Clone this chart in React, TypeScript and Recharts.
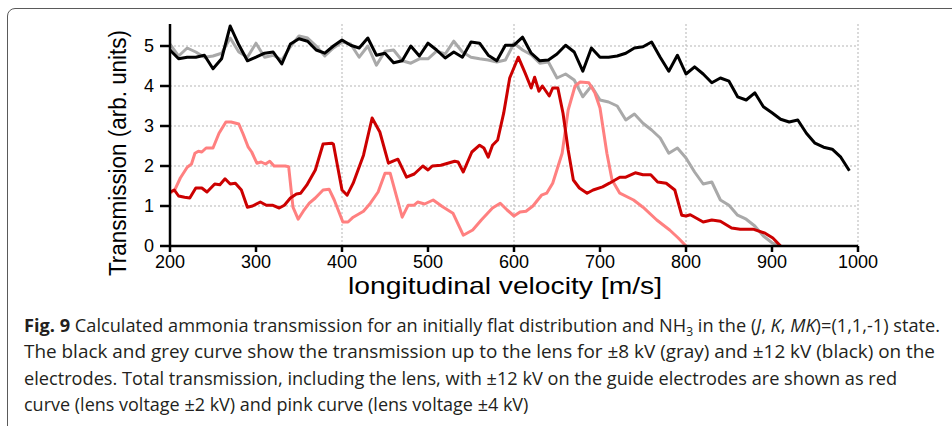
import React from 'react';
import { LineChart, Line, XAxis, YAxis, ReferenceLine } from 'recharts';

// velocity grid for the two "up to the lens" curves (m/s)
const gridV = [
  200, 210, 220, 230, 240, 250, 260, 270, 280, 290,
  300, 310, 320, 330, 340, 350, 360, 370, 380, 390,
  400, 410, 420, 430, 440, 450, 460, 470, 480, 490,
  500, 510, 520, 530, 540, 550, 560, 570, 580, 590,
  600, 610, 620, 630, 640, 650, 660, 670, 680, 690,
  700, 710, 720, 730, 740, 750, 760, 770, 780, 790,
  800, 810, 820, 830, 840, 850, 860, 870, 880, 890,
  900, 910, 920, 930, 940, 950, 960, 970, 980, 990,
];

// +-12 kV, black
const blackT = [
  4.9, 4.68, 4.72, 4.72, 4.77, 4.43, 4.68, 5.5, 5.03, 4.63,
  4.72, 4.82, 4.85, 4.55, 5.05, 5.18, 5.12, 4.9, 4.82, 5.0,
  5.15, 5.02, 4.95, 5.2, 4.77, 4.82, 4.58, 4.63, 5.0, 4.75,
  5.07, 4.9, 4.7, 4.85, 4.72, 5.1, 5.07, 4.77, 4.63, 5.02,
  5.02, 5.22, 4.82, 4.63, 4.65, 4.8, 5.02, 4.85, 4.37, 4.95,
  4.72, 4.72, 4.75, 4.82, 4.95, 4.98, 5.1, 4.72, 4.37, 4.77,
  4.3, 4.48, 4.3, 4.08, 4.2, 4.12, 3.73, 3.65, 3.83, 3.48,
  3.33, 3.17, 3.1, 3.15, 2.82, 2.57, 2.47, 2.42, 2.22, 1.88,
];

// +-8 kV, gray (ends at 910)
const grayT = [
  5.05, 4.75, 4.95, 4.85, 4.72, 4.75, 4.82, 5.2, 4.85, 4.72,
  5.07, 4.72, 4.77, 4.65, 4.98, 5.25, 5.2, 5.0, 4.75, 4.95,
  5.1, 5.05, 4.72, 5.0, 4.52, 4.87, 4.9, 4.63, 4.57, 4.68,
  4.68, 4.87, 4.8, 5.12, 4.85, 4.72, 4.68, 4.65, 4.6, 4.65,
  5.07, 4.9, 4.78, 4.57, 4.6, 4.2, 4.3, 4.15, 3.73, 4.0,
  3.65, 3.6, 3.5, 3.15, 3.3, 3.07, 2.9, 2.7, 2.32, 2.45,
  2.2, 1.85, 1.55, 1.6, 1.15, 1.02, 0.77, 0.67, 0.5, 0.25,
  0.08, 0,
];

// lens voltage +-2 kV, red
const redV = [
  200, 205, 210, 217, 223, 230, 237, 243, 252, 258, 264, 270, 276, 283, 290,
  296, 305, 312, 319, 327, 333, 340, 347, 352, 359, 369, 378, 388, 390, 400,
  406, 413, 425, 435, 444, 454, 460, 465, 475, 484, 494, 500, 505, 515, 523,
  531, 535, 541, 551, 560, 565, 570, 575, 581, 588, 595, 605, 613, 620, 624,
  629, 633, 641, 645, 651, 657, 663, 669, 676, 685, 692, 703, 711, 723, 730,
  741, 750, 759, 767, 777, 787, 795, 800, 805, 820, 830, 840, 853, 863, 878,
  892, 901, 910,
];
const redT = [
  1.35, 1.4, 1.25, 1.22, 1.2, 1.45, 1.45, 1.35, 1.55, 1.53, 1.68, 1.55, 1.57, 1.4, 0.97,
  1.0, 1.1, 1.02, 1.02, 0.95, 1.02, 1.2, 1.3, 1.32, 1.52, 1.9, 2.55, 2.57, 2.55, 1.4,
  1.27, 1.57, 2.27, 3.2, 2.85, 2.07, 2.13, 2.17, 1.72, 1.8, 2.0, 1.9, 2.0, 2.02, 2.07,
  2.12, 2.1, 1.85, 2.35, 2.52, 2.45, 2.22, 2.52, 2.65, 3.32, 4.2, 4.72, 4.32, 3.95, 4.22,
  3.87, 4.0, 3.75, 3.95, 3.95, 3.32, 2.4, 1.65, 1.45, 1.32, 1.4, 1.48, 1.57, 1.72, 1.72,
  1.83, 1.78, 1.78, 1.6, 1.57, 1.4, 0.77, 0.75, 0.78, 0.6, 0.65, 0.62, 0.45, 0.42, 0.42,
  0.32, 0.2, 0,
];

// lens voltage +-4 kV, pink
const pinkV = [
  200, 206, 212, 220, 225, 229, 233, 237, 242, 250, 257, 265, 271, 280, 285,
  291, 295, 301, 306, 311, 316, 321, 327, 334, 338, 343, 349, 355, 362, 369,
  378, 385, 391, 401, 407, 413, 425, 433, 442, 450, 456, 470, 477, 484, 488,
  496, 506, 517, 529, 541, 552, 562, 575, 584, 592, 600, 607, 614, 622, 632,
  638, 645, 656, 663, 671, 677, 687, 694, 700, 708, 714, 723, 739, 750, 766,
  781, 791, 800,
];
const pinkT = [
  1.32, 1.42, 1.7, 1.97, 2.05, 2.32, 2.37, 2.35, 2.45, 2.45, 2.82, 3.1, 3.1, 3.05, 2.8,
  2.47, 2.35, 2.07, 2.1, 2.05, 2.12, 2.0, 2.0, 2.0, 1.98, 0.97, 0.67, 0.87, 1.07, 1.2,
  1.4, 1.42, 1.15, 0.6, 0.6, 0.72, 0.87, 1.07, 1.35, 1.82, 1.82, 0.72, 1.02, 1.02, 1.1,
  1.05, 1.15, 0.98, 0.82, 0.27, 0.4, 0.65, 0.95, 1.07, 0.9, 0.75, 0.85, 0.87, 1.0, 1.27,
  1.32, 1.57, 2.32, 3.4, 4.0, 4.1, 4.08, 3.83, 3.45, 2.32, 1.65, 1.32, 1.15, 0.97, 0.65,
  0.4, 0.2, 0,
];

const xTicks = [200, 300, 400, 500, 600, 700, 800, 900, 1000];
const yTicks = [0, 1, 2, 3, 4, 5];
const gridX = [400, 600, 800, 1000];
const gridY = [1, 2, 3, 4, 5];

const blackData = gridV.map((v, i) => ({ v, t: blackT[i] }));
const grayData = grayT.map((t, i) => ({ v: gridV[i], t }));
const redData = redV.map((v, i) => ({ v, t: redT[i] }));
const pinkData = pinkV.map((v, i) => ({ v, t: pinkT[i] }));

const axisFont = '"Liberation Sans", Arial, Helvetica, sans-serif';
const captionFont = '"Open Sans", "Noto Sans", sans-serif';

function XTitle({ viewBox }: any) {
  const cx = viewBox.x + viewBox.width / 2 - 9;
  return (
    <text
      x={cx}
      y={294}
      textAnchor="middle"
      fontFamily={axisFont}
      fontSize={24}
      fill="#000"
      textLength={314}
      lengthAdjust="spacingAndGlyphs"
    >
      longitudinal velocity [m/s]
    </text>
  );
}

function YTitle() {
  return (
    <text
      x={126}
      y={153}
      transform="rotate(-90 126 153)"
      textAnchor="middle"
      fontFamily={axisFont}
      fontSize={23}
      fill="#000"
      textLength={246}
      lengthAdjust="spacingAndGlyphs"
    >
      Transmission (arb. units)
    </text>
  );
}

export default function App() {
  return (
    <div
      style={{
        position: 'absolute',
        left: 0,
        top: 0,
        width: 952,
        height: 426,
        overflow: 'hidden',
        background: '#fff',
      }}
    >
      <div
        style={{
          position: 'absolute',
          left: 7,
          top: 8,
          width: 1000,
          height: 500,
          border: '1.5px solid #5a5a5a',
          borderRadius: 8,
        }}
      />
      <div style={{ position: 'absolute', left: 0, top: 0 }}>
        <LineChart
          width={952}
          height={300}
          margin={{ top: 24, right: 94, bottom: 24, left: 110 }}
        >
          <XAxis
            type="number"
            dataKey="v"
            domain={[200, 1000]}
            ticks={xTicks}
            allowDuplicatedCategory={false}
            height={30}
            tickSize={6}
            tickMargin={3}
            axisLine={{ stroke: '#000', strokeWidth: 2.5 }}
            tickLine={{ stroke: '#000', strokeWidth: 2.5 }}
            tick={{ fill: '#000', fontSize: 18, fontFamily: axisFont }}
            label={<XTitle />}
          />
          <YAxis
            type="number"
            dataKey="t"
            domain={[0, 5.55]}
            ticks={yTicks}
            allowDataOverflow
            width={60}
            tickSize={10}
            tickMargin={6}
            axisLine={{ stroke: '#000', strokeWidth: 2.5 }}
            tickLine={{ stroke: '#000', strokeWidth: 2.5 }}
            tick={{ fill: '#000', fontSize: 18, fontFamily: axisFont }}
            label={<YTitle />}
          />
          {gridY.map((y) => (
            <ReferenceLine key={'gy' + y} y={y} stroke="#b5b5b5" strokeWidth={1} strokeDasharray="2 2" />
          ))}
          {gridX.map((x) => (
            <ReferenceLine key={'gx' + x} x={x} stroke="#b5b5b5" strokeWidth={1} strokeDasharray="2 2" />
          ))}
          <Line data={grayData} dataKey="t" type="linear" stroke="#a9a9a9" strokeWidth={3} dot={false} isAnimationActive={false} strokeLinejoin="round" />
          <Line data={blackData} dataKey="t" type="linear" stroke="#000000" strokeWidth={3} dot={false} isAnimationActive={false} strokeLinejoin="round" />
          <Line data={pinkData} dataKey="t" type="linear" stroke="#ff8080" strokeWidth={3} dot={false} isAnimationActive={false} strokeLinejoin="round" />
          <Line data={redData} dataKey="t" type="linear" stroke="#cc0000" strokeWidth={3} dot={false} isAnimationActive={false} strokeLinejoin="round" />
        </LineChart>
      </div>
      <svg
        width={952}
        height={426}
        style={{ position: 'absolute', left: 0, top: 0, pointerEvents: 'none' }}
        fontFamily={captionFont}
        fontSize={18}
        fill="#231f20"
      >
        <text x={24} y={332} textLength={916} lengthAdjust="spacingAndGlyphs">
          <tspan fontWeight="bold">Fig. 9</tspan>
          <tspan> Calculated ammonia transmission for an initially flat distribution and NH</tspan>
          <tspan dy={4} fontSize={12}>3</tspan>
          <tspan dy={-4}> in the (</tspan>
          <tspan fontStyle="italic">J</tspan>
          <tspan>, </tspan>
          <tspan fontStyle="italic">K</tspan>
          <tspan>, </tspan>
          <tspan fontStyle="italic">MK</tspan>
          <tspan>)=(1,1,-1) state.</tspan>
        </text>
        <text x={24} y={358} textLength={911} lengthAdjust="spacingAndGlyphs">
          The black and grey curve show the transmission up to the lens for ±8 kV (gray) and ±12 kV (black) on the
        </text>
        <text x={24} y={385} textLength={873} lengthAdjust="spacingAndGlyphs">
          electrodes. Total transmission, including the lens, with ±12 kV on the guide electrodes are shown as red
        </text>
        <text x={24} y={411}>
          curve (lens voltage ±2 kV) and pink curve (lens voltage ±4 kV)
        </text>
      </svg>
    </div>
  );
}
